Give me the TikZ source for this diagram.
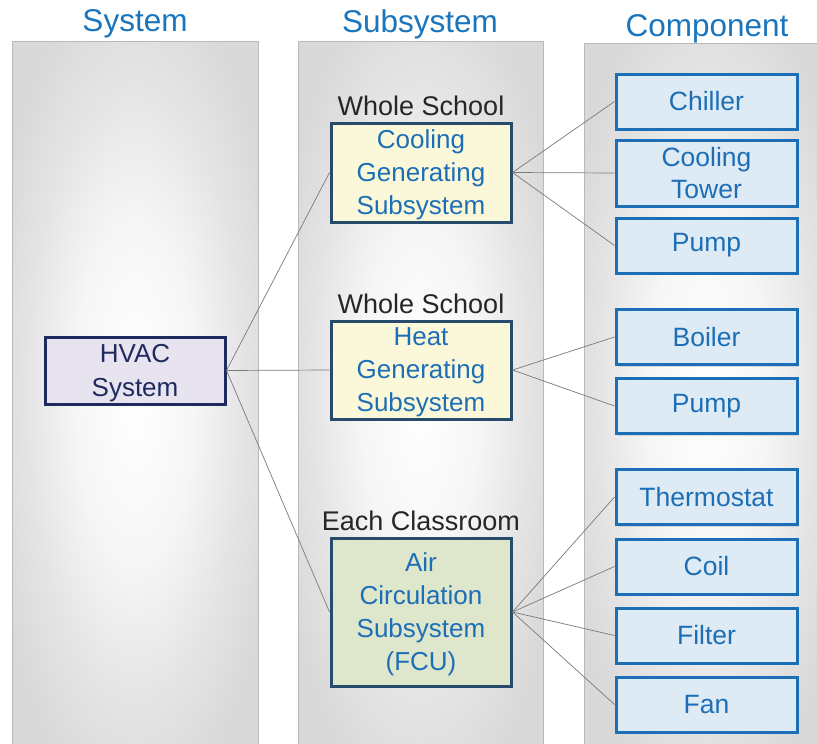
\documentclass[tikz,border=0pt]{standalone}
\usepackage{fontspec}
\setmainfont{Liberation Sans}
\usetikzlibrary{shadows}
\definecolor{hdrblue}{HTML}{1B75BC}
\definecolor{compblue}{HTML}{1C6FB6}
\definecolor{compfill}{HTML}{DEEAF4}
\definecolor{navy}{HTML}{1F2A5E}
\definecolor{lav}{HTML}{E7E4EF}
\definecolor{slate}{HTML}{264B6B}
\definecolor{yel}{HTML}{FAF8D9}
\definecolor{grn}{HTML}{DEE6CB}
\definecolor{panelgray}{HTML}{D9D9D9}
\definecolor{panelmid}{HTML}{F6F6F6}
\definecolor{lnk}{HTML}{7A7A7A}
\pgfdeclareradialshading{panelshade}{\pgfpoint{0bp}{0bp}}{%
  color(0bp)=(white); color(12bp)=(panelmid); color(22bp)=(panelgray!70!white); color(30bp)=(panelgray); color(50bp)=(panelgray)}
\tikzset{
  panel/.style={shading=panelshade},
  hdr/.style={text=hdrblue, font=\fontsize{31.5}{34}\selectfont},
  sysbox/.style={draw=navy, fill=lav, text=navy, line width=3pt, minimum width=180pt, minimum height=67pt, inner sep=0pt, align=center, text depth=0pt, font=\fontsize{26}{34}\selectfont, drop shadow={opacity=0.25, shadow xshift=2pt, shadow yshift=-2pt}},
  subbox/.style={draw=slate, text=compblue, line width=3pt, minimum width=180pt, inner sep=0pt, align=center, text depth=0pt, font=\fontsize{26}{33}\selectfont, drop shadow={opacity=0.25, shadow xshift=2pt, shadow yshift=-2pt}},
  compbox/.style={draw=compblue, fill=compfill, text=compblue, line width=3pt, minimum width=181pt, minimum height=55pt, inner sep=0pt, align=center, font=\fontsize{26.5}{32}\selectfont, drop shadow={opacity=0.25, shadow xshift=2pt, shadow yshift=-2pt}},
  scopelbl/.style={text=black!85, font=\fontsize{27}{30}\selectfont},
  link/.style={draw=lnk, line width=0.7pt}
}
\begin{document}
\begin{tikzpicture}[x=1pt, y=-1pt]
\useasboundingbox (0,0) rectangle (817,744);
\fill[white] (0,0) rectangle (817,744);
% panels
\shade[panel] (12,41) rectangle (258,744);
\draw[gray!55, line width=0.8pt] (12,744) -- (12,41) -- (258,41) -- (258,744);
\shade[panel] (298,41) rectangle (543,744);
\draw[gray!55, line width=0.8pt] (298,744) -- (298,41) -- (543,41) -- (543,744);
\shade[panel] (584,43) rectangle (830,744);
\draw[gray!55, line width=0.8pt] (584,744) -- (584,43) -- (817,43);
% headers
\node[hdr] (h1) at (135,24) {System};
\node[hdr] (h2) at (420,24) {Subsystem};
\node[hdr] (h3) at (707,29) {Component};
% system
\node[sysbox] (hvac) at (135,370.5) {HVAC\\System};
% subsystems
\node[subbox, fill=yel, minimum height=99pt] (cool) at (421,172.5) {Cooling\\Generating\\Subsystem};
\node[scopelbl] (ws1) at (421,106) {Whole School};
\node[subbox, fill=yel, minimum height=98pt] (heat) at (421,370) {Heat\\Generating\\Subsystem};
\node[scopelbl] (ws2) at (421,304) {Whole School};
\node[subbox, fill=grn, minimum height=148pt] (air) at (421,612) {Air\\Circulation\\Subsystem\\(FCU)};
\node[scopelbl] (ec) at (421,521) {Each Classroom};
% components
\node[compbox] (chiller) at (706.5,101.5) {Chiller};
\node[compbox, minimum height=66pt] (tower) at (706.5,173) {Cooling\\Tower};
\node[compbox] (pump1) at (706.5,245.5) {Pump};
\node[compbox] (boiler) at (706.5,337) {Boiler};
\node[compbox] (pump2) at (706.5,406) {Pump};
\node[compbox] (thermo) at (706.5,497) {Thermostat};
\node[compbox] (coil) at (706.5,566.5) {Coil};
\node[compbox] (filter) at (706.5,635.5) {Filter};
\node[compbox] (fan) at (706.5,704.5) {Fan};
% links
\draw[link] (hvac.east) -- (cool.west);
\draw[link] (hvac.east) -- (heat.west);
\draw[link] (hvac.east) -- (air.west);
\draw[link] (cool.east) -- (chiller.west);
\draw[link] (cool.east) -- (tower.west);
\draw[link] (cool.east) -- (pump1.west);
\draw[link] (heat.east) -- (boiler.west);
\draw[link] (heat.east) -- (pump2.west);
\draw[link] (air.east) -- (thermo.west);
\draw[link] (air.east) -- (coil.west);
\draw[link] (air.east) -- (filter.west);
\draw[link] (air.east) -- (fan.west);
\end{tikzpicture}
\end{document}
